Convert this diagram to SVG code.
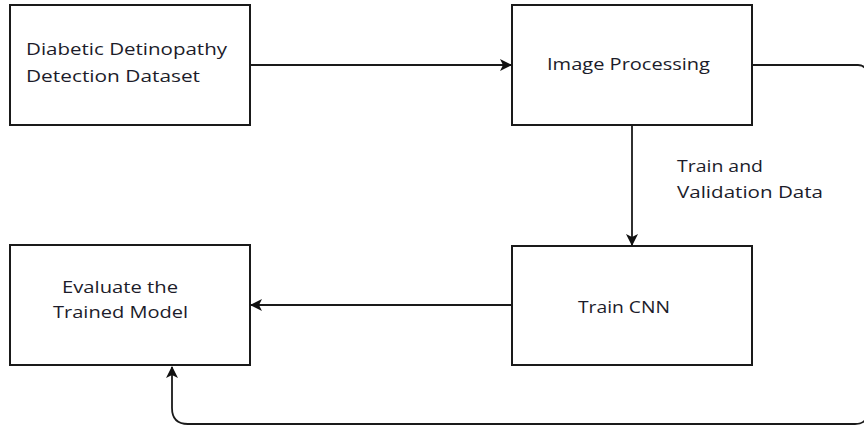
<svg xmlns="http://www.w3.org/2000/svg" width="864" height="429" viewBox="0 0 864 429">
  <style>
    .box { fill: #ffffff; stroke: #1a1a1a; stroke-width: 2; }
    .lbl { font-family: "Open Sans", "Noto Sans", "Liberation Sans", sans-serif; font-size: 17px; fill: #1c1c2a; }
    .wire { fill: none; stroke: #1a1a1a; stroke-width: 1.8; }
  </style>
  <defs>
    <marker id="head" viewBox="0 0 12 12" refX="11" refY="6" markerWidth="12" markerHeight="12" markerUnits="userSpaceOnUse" orient="auto">
      <path d="M0,0 L12,6 L0,12 L3,6 Z" fill="#111"/>
    </marker>
  </defs>
  <rect width="864" height="429" fill="#ffffff"/>

  <g id="node-dataset">
    <rect class="box" x="10" y="5" width="240" height="120"/>
    <text class="lbl" x="26" y="55" textLength="201" lengthAdjust="spacingAndGlyphs">Diabetic Detinopathy</text>
    <text class="lbl" x="26" y="82" textLength="174" lengthAdjust="spacingAndGlyphs">Detection Dataset</text>
  </g>

  <g id="node-processing">
    <rect class="box" x="512" y="5" width="240" height="120"/>
    <text class="lbl" x="547" y="70" textLength="163" lengthAdjust="spacingAndGlyphs">Image Processing</text>
  </g>

  <g id="node-train">
    <rect class="box" x="512" y="246" width="240" height="119"/>
    <text class="lbl" x="578" y="313" textLength="92" lengthAdjust="spacingAndGlyphs">Train CNN</text>
  </g>

  <g id="node-evaluate">
    <rect class="box" x="10" y="245" width="240" height="120"/>
    <text class="lbl" x="62" y="293" textLength="116" lengthAdjust="spacingAndGlyphs">Evaluate the</text>
    <text class="lbl" x="53" y="318" textLength="135" lengthAdjust="spacingAndGlyphs">Trained Model</text>
  </g>

  <g id="connectors">
    <path class="wire" d="M250,65 H511" marker-end="url(#head)"/>
    <path class="wire" d="M632,125 V245" marker-end="url(#head)"/>
    <text class="lbl" x="677" y="172" textLength="86" lengthAdjust="spacingAndGlyphs">Train and</text>
    <text class="lbl" x="677" y="198" textLength="146" lengthAdjust="spacingAndGlyphs">Validation Data</text>
    <path class="wire" d="M512,305 H251" marker-end="url(#head)"/>
    <path class="wire" d="M752,65 H858 Q868,65 868,80 V410 Q868,424 855,424 H188 Q172,424 172,408 V367" marker-end="url(#head)"/>
  </g>
</svg>
